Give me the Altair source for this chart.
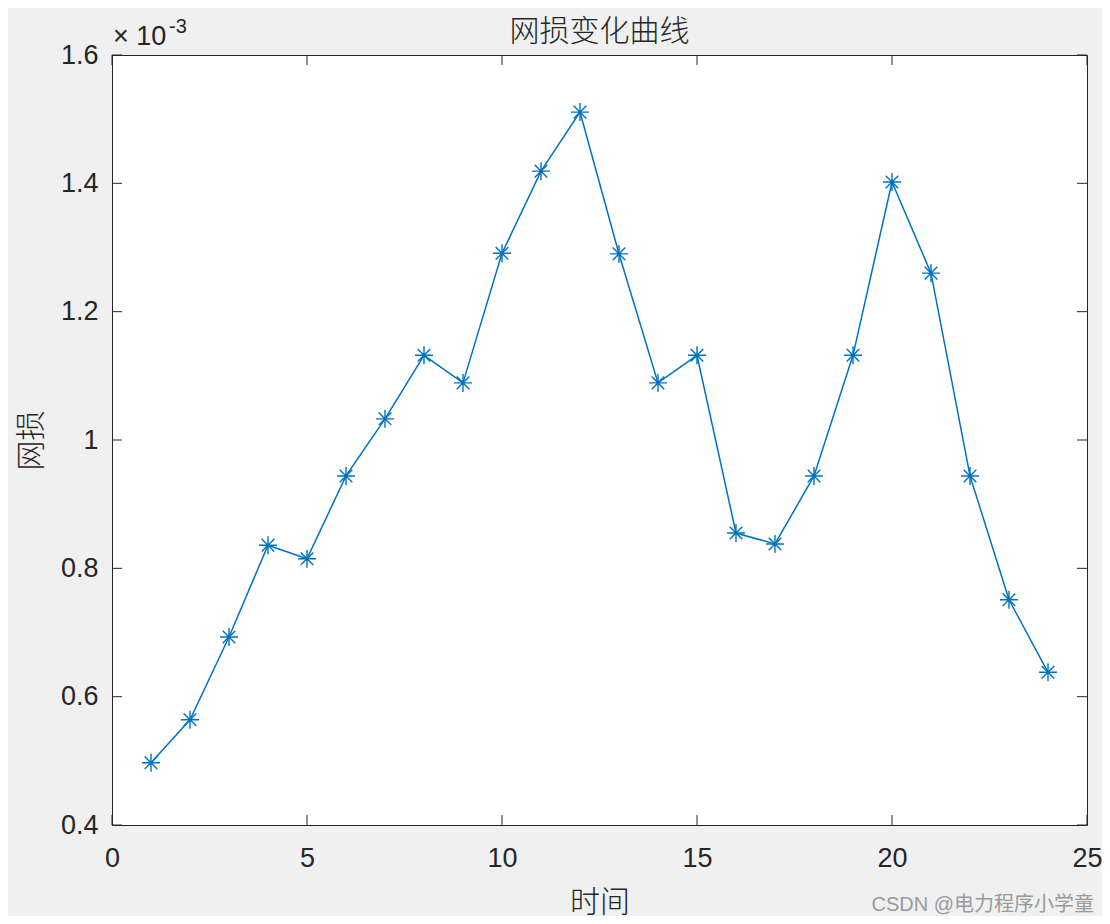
import altair as alt
import pandas as pd

# data (网损, in units of 1e-3)
hours = list(range(1, 25))
loss = [0.497, 0.564, 0.693, 0.836, 0.815, 0.944, 1.033, 1.132, 1.089, 1.291,
        1.419, 1.511, 1.290, 1.089, 1.132, 0.855, 0.838, 0.944, 1.132, 1.402,
        1.260, 0.944, 0.751, 0.638]
x_ticks = [0, 5, 10, 15, 20, 25]
y_ticks = [0.4, 0.6, 0.8, 1.0, 1.2, 1.4, 1.6]

W, H = 975, 770
FONT = "Liberation Sans, Noto Sans CJK SC"
CJK = "Noto Sans CJK SC"
BLUE = "#0072BD"
AX = "#262626"
TL = 10

df = pd.DataFrame({"时间": hours, "网损": loss})
xdf = pd.DataFrame({"时间": x_ticks})
ydf = pd.DataFrame({"网损": y_ticks})

xs = alt.Scale(domain=[0, 25], nice=False, zero=False)
ys = alt.Scale(domain=[0.4, 1.6], nice=False, zero=False)

xaxis = alt.Axis(values=x_ticks, ticks=False, domain=False, grid=False, labelFont=FONT,
                 labelFontSize=27, labelColor=AX, labelPadding=20, title="时间",
                 titleFont=CJK, titleFontSize=30, titleFontWeight=300, titleColor=AX,
                 titlePadding=16, labelFlush=False)
yaxis = alt.Axis(values=y_ticks, ticks=False, domain=False, grid=False, labelFont=FONT,
                 labelFontSize=27, labelColor=AX, labelPadding=14, format=".1~f", title="网损",
                 titleFont=CJK, titleFontSize=30, titleFontWeight=300, titleColor=AX,
                 titlePadding=14, labelFlush=False)

X = alt.X("时间:Q", scale=xs, axis=xaxis)
Y = alt.Y("网损:Q", scale=ys, axis=yaxis)

base = alt.Chart(df)
line = base.mark_line(color=BLUE, strokeWidth=1.5).encode(x=X, y=Y)
star = "M-1,0L1,0M0,-1L0,1M-0.7,-0.7L0.7,0.7M-0.7,0.7L0.7,-0.7"
pts = base.mark_point(shape=star, filled=False, color=BLUE, strokeWidth=1.4, size=324, opacity=1).encode(x=X, y=Y)

tick_style = dict(color=AX, strokeWidth=1)
xb = alt.Chart(xdf).mark_rule(**tick_style).encode(x=X, y=alt.value(H), y2=alt.value(H - TL))
xt = alt.Chart(xdf).mark_rule(**tick_style).encode(x=X, y=alt.value(0), y2=alt.value(TL))
yl = alt.Chart(ydf).mark_rule(**tick_style).encode(y=Y, x=alt.value(0), x2=alt.value(TL))
yr = alt.Chart(ydf).mark_rule(**tick_style).encode(y=Y, x=alt.value(W), x2=alt.value(W - TL))

one = pd.DataFrame({"a": [0]})
title = alt.Chart(one).mark_text(text="网损变化曲线", font=CJK, fontSize=30, fontWeight=300, color=AX,
                                 align="center", baseline="alphabetic").encode(
    x=alt.value(W / 2), y=alt.value(-14))
exp1 = alt.Chart(one).mark_text(text="× 10", font=FONT, fontSize=27, color=AX, align="left", baseline="alphabetic").encode(
    x=alt.value(1), y=alt.value(-10))
exp2 = alt.Chart(one).mark_text(text="-3", font=FONT, fontSize=20, color=AX, align="left", baseline="alphabetic").encode(
    x=alt.value(57), y=alt.value(-22))
wm = alt.Chart(one).mark_text(text="CSDN @电力程序小学童", font=FONT, fontSize=20, color="#9a9a9a", align="right", baseline="middle").encode(
    x=alt.value(982), y=alt.value(850))

chart = alt.layer(xb, xt, yl, yr, line, pts, title, exp1, exp2, wm).properties(
    width=W, height=H,
    autosize=alt.AutoSizeParams(type="none"),
    padding={"left": 104, "top": 47, "right": 15, "bottom": 91},
).configure(background="#f0f0f0").configure_view(fill="white", stroke=AX, strokeWidth=1)

chart.save("out.html", embed_options={"renderer": "svg", "actions": False})
